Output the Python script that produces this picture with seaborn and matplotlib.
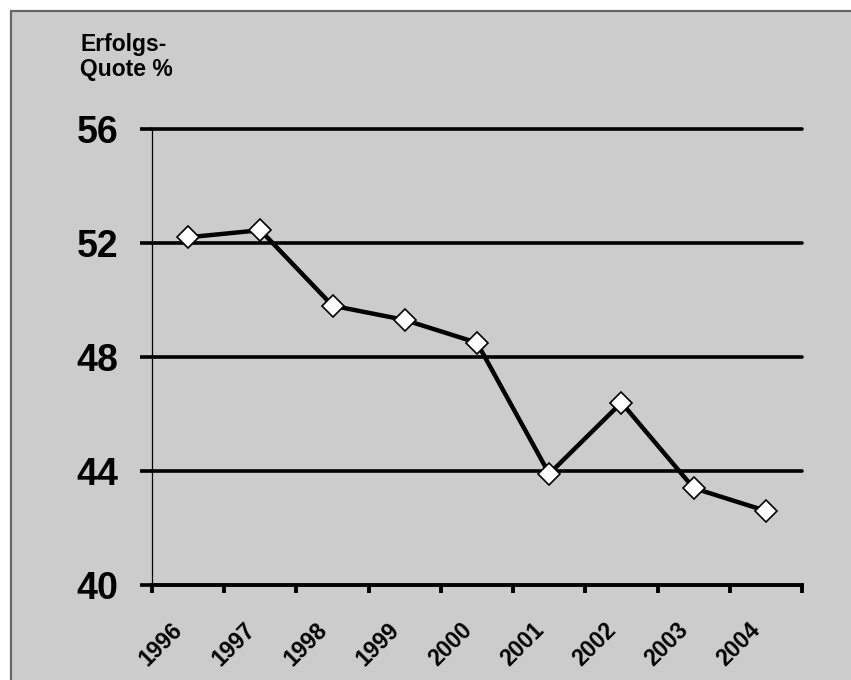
import matplotlib
matplotlib.use("Agg")
import matplotlib.pyplot as plt
import matplotlib.transforms as mtransforms
from matplotlib.patches import Rectangle
import seaborn as sns
import pandas as pd

years = ["1996", "1997", "1998", "1999", "2000", "2001", "2002", "2003", "2004"]
quote = [52.2, 52.45, 49.8, 49.3, 48.5, 43.9, 46.4, 43.4, 42.6]
y_ticks = [40, 44, 48, 52, 56]

sns.set_theme(style="white")
plt.rcParams["font.family"] = ["Liberation Sans"]

W, H = 851, 680
fig = plt.figure(figsize=(W / 100, H / 100), dpi=100, facecolor="white")

# gray panel with border (left/top visible)
fig.patches.append(Rectangle((10.5 / W, -0.5), 2.0, (H - 10.5) / H + 0.5,
                             transform=fig.transFigure, facecolor="#cccccc",
                             edgecolor="#666666", linewidth=1.6, zorder=-10))

ax = fig.add_axes([152 / W, 95 / H, 650 / W, 456 / H])
ax.set_facecolor("none")

df = pd.DataFrame({"Jahr": years, "Quote": quote})
sns.lineplot(data=df, x="Jahr", y="Quote", ax=ax, color="black", linewidth=3.2,
             marker="D", markersize=11.5, markerfacecolor="white",
             markeredgecolor="black", markeredgewidth=1.2, zorder=5, clip_on=False)

ax.set_xlim(-0.5, len(years) - 0.5)
ax.set_ylim(40, 56)

# horizontal grid lines
for v in y_ticks[1:]:
    ax.axhline(v, color="black", linewidth=2.6, zorder=1, clip_on=False)

for s in ["top", "right"]:
    ax.spines[s].set_visible(False)
ax.spines["left"].set_color("black")
ax.spines["left"].set_linewidth(0.9)
ax.spines["bottom"].set_color("black")
ax.spines["bottom"].set_linewidth(2.8)
ax.spines["bottom"].set_zorder(3)

ax.set_yticks(y_ticks)
ax.set_yticklabels([str(v) for v in y_ticks])
ax.tick_params(axis="y", which="major", left=True, direction="out", length=9,
               width=2.6, color="black", pad=15)
for lab in ax.get_yticklabels():
    lab.set_fontweight("bold")
    lab.set_fontsize(27)
    lab.set_color("black")

ax.set_xticks([i - 0.5 for i in range(len(years) + 1)])
ax.set_xticklabels([])
ax.set_xticks(list(range(len(years))), minor=True)
ax.set_xticklabels(years, minor=True)
ax.tick_params(axis="x", which="major", bottom=True, direction="out", length=6,
               width=2.8, color="black")
ax.tick_params(axis="x", which="minor", bottom=True, length=0, pad=24)
offset = mtransforms.ScaledTranslation(-17 / 100, 0, fig.dpi_scale_trans)
for lab in ax.get_xticklabels(minor=True):
    lab.set_rotation(45)
    lab.set_ha("right")
    lab.set_va("top")
    lab.set_rotation_mode("anchor")
    lab.set_fontsize(16.5)
    lab.set_fontweight("bold")
    lab.set_color("black")
    lab.set_transform(lab.get_transform() + offset)

ax.set_xlabel("")
ax.set_ylabel("")

fig.text(80 / W, 1 - 33 / H, "Erfolgs-\nQuote %", ha="left", va="top",
         fontsize=16.5, fontweight="bold", color="black", linespacing=1.1)

fig.savefig("out.png", dpi=100, facecolor="white")
